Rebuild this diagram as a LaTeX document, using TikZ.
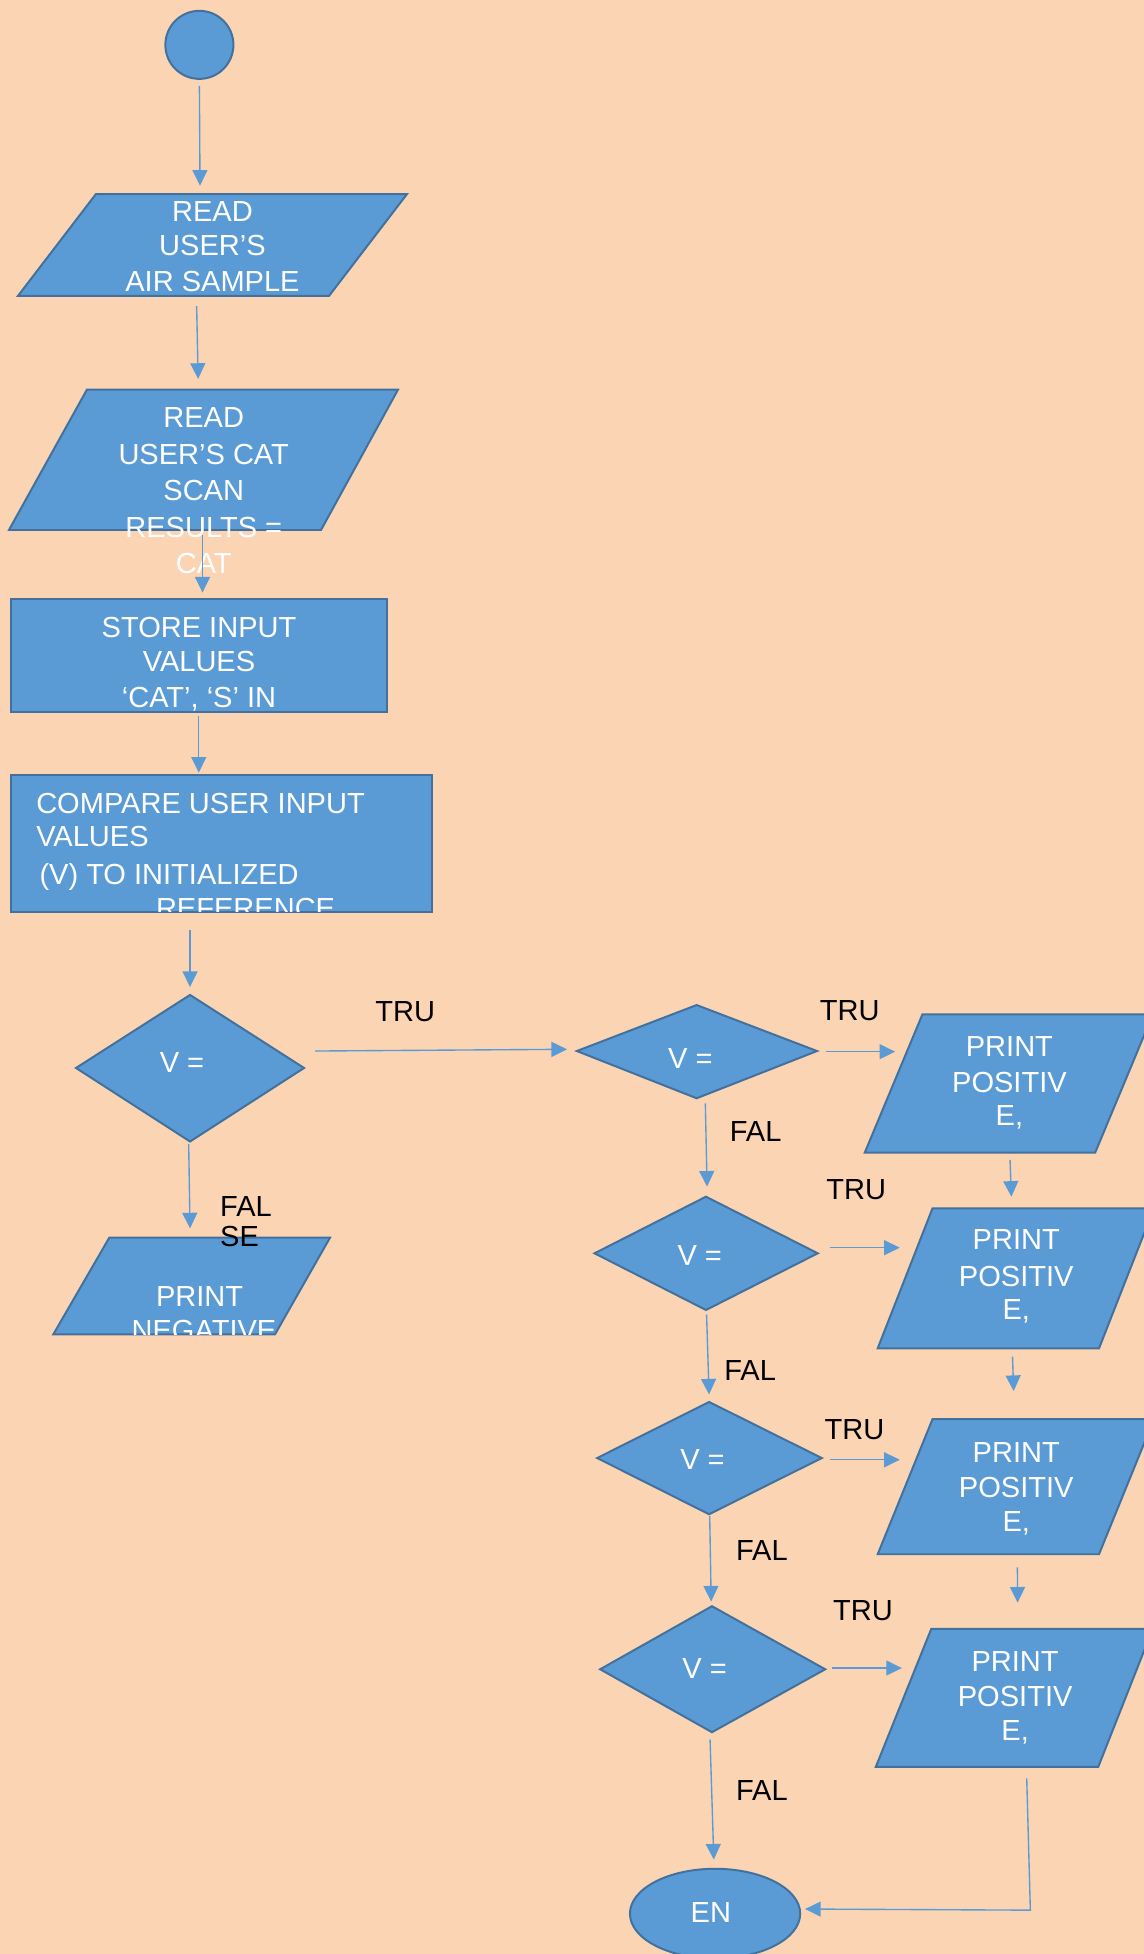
\documentclass[tikz,border=0pt]{standalone}
\usepackage{fontspec}
\setmainfont{Liberation Sans}
\usetikzlibrary{arrows.meta}
\definecolor{bgc}{HTML}{FBD4B4}
\definecolor{shp}{HTML}{5B9BD5}
\definecolor{brd}{HTML}{41719C}
\tikzset{
  shapebox/.style={fill=shp, draw=brd, line width=1.6pt, line join=miter},
  conn/.style={draw=shp, line width=1.1pt, -{Triangle[length=12.5pt,width=12pt]}},
  plainconn/.style={draw=shp, line width=1.1pt},
  wt/.style={text=white, font=\fontsize{23.3pt}{28pt}\selectfont, inner sep=0pt, anchor=base},
  wtl/.style={wt, anchor=base west},
  lbl/.style={text=black, font=\fontsize{23.3pt}{28pt}\selectfont, inner sep=0pt, anchor=base west}
}
\begin{document}
\begin{tikzpicture}[x=1pt,y=-1pt]
\clip (0,0) rectangle (918,1568);
\fill[bgc] (0,0) rectangle (918,1568);

% start
\filldraw[shapebox] (160,36) circle (27.3);
% para 1
\draw[shapebox] (77,155.7) -- (326.6,155.7) -- (264,237.5) -- (14.4,237.5) -- cycle;
\node[wt] (p1a) at (170.5,178) {READ};
\node[wt] (p1b) at (170.5,205) {USER’S};
\node[wt] (p1c) at (170.5,234.3) {AIR SAMPLE};
% para 2
\draw[shapebox] (69.8,312.6) -- (319.4,312.6) -- (257.6,425.3) -- (7.2,425.3) -- cycle;
\node[wt] (p2a) at (163.5,343.3) {READ};
\node[wt] (p2b) at (163.5,372.8) {USER’S CAT};
\node[wt] (p2c) at (163.5,401.5) {SCAN};
\node[wt] (p2d) at (163.5,431.6) {RESULTS =};
\node[wt] (p2e) at (163.5,460.2) {CAT};
% store
\draw[shapebox] (8.8,480.3) rectangle (310.5,571.2);
\begin{scope}
\clip (8.8,480.3) rectangle (310.5,571.2);
\node[wt] (s1) at (159.7,511.8) {STORE INPUT};
\node[wt] (s2) at (159.7,539) {VALUES};
\node[wt] (s3) at (159.7,567.7) {‘CAT’, ‘S’ IN};
\end{scope}
% compare
\draw[shapebox] (8.8,621.5) rectangle (346.6,731.8);
\begin{scope}
\clip (8.8,621.5) rectangle (346.6,731.8);
\node[wtl] (c1) at (28.9,653) {COMPARE USER INPUT};
\node[wtl] (c2) at (28.9,679.4) {VALUES};
\node[wtl] (c3) at (31.5,710) {(V) TO INITIALIZED};
\node[wtl] (c4) at (125,737.4) {REFERENCE};
\end{scope}
% diamond 1
\draw[shapebox] (152.5,798.4) -- (244,857) -- (152.5,916) -- (61,857) -- cycle;
\node[wtl] (d1t) at (128,860.5) {V =};
% negative
\draw[shapebox] (87.7,993.2) -- (264.8,993.2) -- (220.7,1070.7) -- (42.8,1070.7) -- cycle;
\begin{scope}
\clip (42.8,993.2) rectangle (264.8,1070.7);
\node[wt] (n1) at (160.2,1048) {PRINT};
\node[wt] (n2) at (163.7,1076) {NEGATIVE};
\end{scope}

% diamonds right column
\draw[shapebox] (559,806.5) -- (655.6,843.4) -- (559,881.3) -- (462.9,843.4) -- cycle;
\node[wtl] (d2t) at (536,857.3) {V =};
\draw[shapebox] (566.5,960.3) -- (656.2,1005.7) -- (566.5,1051.2) -- (477.1,1005.7) -- cycle;
\node[wtl] (d3t) at (543.5,1015.1) {V =};
\draw[shapebox] (569,1125) -- (659.4,1170) -- (569,1215.1) -- (479.2,1170) -- cycle;
\node[wtl] (d4t) at (545.7,1179.3) {V =};
\draw[shapebox] (571.3,1288.9) -- (662.2,1339.5) -- (571.3,1390) -- (481.6,1339.5) -- cycle;
\node[wtl] (d5t) at (547.4,1346.8) {V =};

% print positive boxes
\draw[shapebox] (740.2,814) -- (925.1,814) -- (878.8,925) -- (693.9,925) -- cycle;
\node[wt] (pa1) at (810,847.4) {PRINT};
\node[wt] (pa2) at (810,876.8) {POSITIV};
\node[wt] (pa3) at (810,903.3) {E,};
\draw[shapebox] (748.3,969.6) -- (926,969.6) -- (881.9,1082) -- (704.3,1082) -- cycle;
\node[wt] (pb1) at (815.5,1002.5) {PRINT};
\node[wt] (pb2) at (815.5,1032) {POSITIV};
\node[wt] (pb3) at (815.5,1058.7) {E,};
\draw[shapebox] (748.3,1138.8) -- (926,1138.8) -- (881.9,1247.2) -- (704.3,1247.2) -- cycle;
\node[wt] (pc1) at (815.5,1173.5) {PRINT};
\node[wt] (pc2) at (815.5,1202) {POSITIV};
\node[wt] (pc3) at (815.5,1229.3) {E,};
\draw[shapebox] (747.3,1307.1) -- (925,1307.1) -- (881.3,1417.8) -- (702.8,1417.8) -- cycle;
\node[wt] (pd1) at (814.6,1340.9) {PRINT};
\node[wt] (pd2) at (814.6,1369.7) {POSITIV};
\node[wt] (pd3) at (814.6,1396.8) {E,};

% end
\filldraw[shapebox] (573.8,1535.6) ellipse [x radius=68.3, y radius=36];
\node[wtl] (endt) at (554,1542.7) {EN};

% labels
\node[lbl] (l1) at (301,819.8) {TRU};
\node[lbl] (l2) at (176.5,976.3) {FAL};
\node[lbl] (l3) at (176.5,1000.4) {SE};
\node[lbl] (l4) at (657.7,819) {TRU};
\node[lbl] (l5) at (585.4,915.6) {FAL};
\node[lbl] (l6) at (663,962.4) {TRU};
\node[lbl] (l7) at (581,1107.5) {FAL};
\node[lbl] (l8) at (661.5,1154.9) {TRU};
\node[lbl] (l9) at (590.4,1251.9) {FAL};
\node[lbl] (l10) at (668.4,1300.4) {TRU};
\node[lbl] (l11) at (590.4,1444.5) {FAL};

% connector coordinates
\coordinate (a1s) at (160,69);      \coordinate (a1e) at (160.5,149);
\coordinate (a2s) at (157.8,245.6); \coordinate (a2e) at (159,304);
\coordinate (a3s) at (162.5,429);   \coordinate (a3e) at (162.5,475.5);
\coordinate (a4s) at (159.5,574.3); \coordinate (a4e) at (159.5,620);
\coordinate (a5s) at (152.5,746.3); \coordinate (a5e) at (152.5,792);
\coordinate (a6s) at (252.8,843.4); \coordinate (a6e) at (455,842);
\coordinate (a7s) at (151.4,918);   \coordinate (a7e) at (152.5,985.7);
\coordinate (a8s) at (662.5,843.9); \coordinate (a8e) at (718.3,843.9);
\coordinate (a9s) at (566,885.4);   \coordinate (a9e) at (567.4,952.2);
\coordinate (a10s) at (810.5,930.8); \coordinate (a10e) at (811.6,960.3);
\coordinate (a11s) at (666,1001.2);  \coordinate (a11e) at (722,1001.2);
\coordinate (a12s) at (567,1055);    \coordinate (a12e) at (569,1119);
\coordinate (a13s) at (812.5,1088.6); \coordinate (a13e) at (813.4,1116.2);
\coordinate (a14s) at (666,1171.4);  \coordinate (a14e) at (722,1171.4);
\coordinate (a15s) at (569.5,1216.7); \coordinate (a15e) at (570.7,1285.1);
\coordinate (a16s) at (816.4,1257.8); \coordinate (a16e) at (816.6,1286);
\coordinate (a17s) at (667.5,1338.5); \coordinate (a17e) at (723.7,1338.5);
\coordinate (a18s) at (569.8,1395.9); \coordinate (a18e) at (572.8,1492.2);
\coordinate (a19s) at (823.9,1427);  \coordinate (a19m) at (826.8,1532.8); \coordinate (a19e) at (646,1531.9);

\foreach \i in {1,...,18} {\draw[conn] (a\i s) -- (a\i e);}
\draw[conn] (a19s) -- (a19m) -- (a19e);
\end{tikzpicture}
\end{document}
